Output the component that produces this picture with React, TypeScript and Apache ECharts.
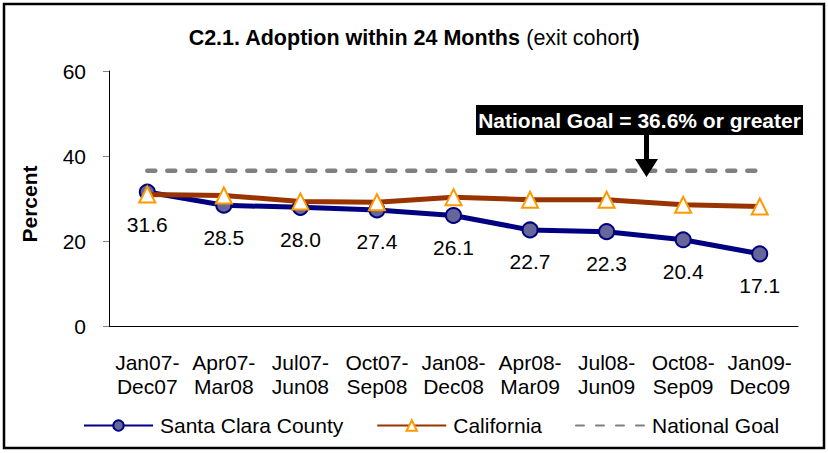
import React, { useEffect, useRef } from "react";
import * as echarts from "echarts";

const categories = [
  "Jan07-\nDec07",
  "Apr07-\nMar08",
  "Jul07-\nJun08",
  "Oct07-\nSep08",
  "Jan08-\nDec08",
  "Apr08-\nMar09",
  "Jul08-\nJun09",
  "Oct08-\nSep09",
  "Jan09-\nDec09",
];
const santaClara = [31.6, 28.5, 28.0, 27.4, 26.1, 22.7, 22.3, 20.4, 17.1];
const california = [31.0, 30.8, 29.4, 29.2, 30.4, 29.8, 29.8, 28.6, 28.2];
const nationalGoal = [36.6, 36.6, 36.6, 36.6, 36.6, 36.6, 36.6, 36.6, 36.6];
const yTicks = { min: 0, max: 60, interval: 20 };
const titleBold = "C2.1. Adoption within 24 Months ";
const titleRegular = "(exit cohort";
const annotationText = "National Goal = 36.6% or greater";

const FONT = "'Liberation Sans', Arial, Helvetica, sans-serif";

export default function App() {
  const ref = useRef<HTMLDivElement>(null);

  useEffect(() => {
    if (!ref.current) return;
    const chart = echarts.init(ref.current, null, { renderer: "svg" });
    chart.setOption({
      animation: false,
      backgroundColor: "#ffffff",
      textStyle: { fontFamily: FONT, color: "#000" },
      title: {
        text: `{b|${titleBold}}{r|${titleRegular}}{b|)}`,
        left: "center",
        top: 22,
        textStyle: {
          rich: {
            b: { fontFamily: FONT, fontSize: 21.5, fontWeight: "bold", color: "#000" },
            r: { fontFamily: FONT, fontSize: 21.5, fontWeight: "normal", color: "#000" },
          },
        },
      },
      grid: { left: 109, right: 30, top: 71, bottom: 126.3, containLabel: false },
      legend: {
        left: 83,
        top: 415,
        padding: 0,
        itemWidth: 69,
        itemHeight: 13,
        itemGap: 33,
        textStyle: { fontFamily: FONT, fontSize: 21, color: "#000", padding: [0, 0, 0, 2] },
        data: [
          { name: "Santa Clara County" },
          { name: "California" },
          { name: "National Goal", itemStyle: { opacity: 0 } },
        ],
      },
      xAxis: {
        type: "category",
        data: categories,
        boundaryGap: true,
        axisLine: { lineStyle: { color: "#000", width: 1 } },
        axisTick: { alignWithLabel: true, inside: true, length: 5, lineStyle: { color: "#808080" } },
        axisLabel: {
          fontFamily: FONT,
          fontSize: 21,
          color: "#000",
          lineHeight: 24,
          margin: 24,
          interval: 0,
        },
        splitLine: { show: false },
      },
      yAxis: {
        type: "value",
        min: yTicks.min,
        max: yTicks.max,
        interval: yTicks.interval,
        axisLine: { show: true, lineStyle: { color: "#000", width: 1 } },
        axisTick: { show: true, length: 6, lineStyle: { color: "#808080" } },
        axisLabel: { fontFamily: FONT, fontSize: 21, color: "#000", margin: 23 },
        splitLine: { show: false },
      },
      series: [
        {
          name: "National Goal",
          type: "line",
          data: nationalGoal,
          symbol: "none",
          lineStyle: { color: "#808080", width: 4.5, type: [8, 12], cap: "round" },
          itemStyle: { color: "#808080" },
          z: 1,
        },
        {
          name: "Santa Clara County",
          type: "line",
          data: santaClara,
          symbol: "circle",
          symbolSize: 15,
          lineStyle: { color: "#000080", width: 5 },
          itemStyle: { color: "#666699", borderColor: "#000080", borderWidth: 2 },
          label: {
            show: true,
            position: "bottom",
            distance: 13,
            fontFamily: FONT,
            fontSize: 21,
            color: "#000",
            formatter: (p: any) => Number(p.value).toFixed(1),
          },
          z: 2,
        },
        {
          name: "California",
          type: "line",
          data: california,
          symbol: "triangle",
          symbolSize: 16,
          lineStyle: { color: "#993300", width: 5 },
          itemStyle: { color: "#ffffff", borderColor: "#FF9900", borderWidth: 2 },
          z: 3,
        },
      ],
      graphic: [
        {
          type: "rect",
          shape: { x: 4, y: 4, width: 820, height: 444 },
          style: { fill: "none", stroke: "#000", lineWidth: 2.5 },
          silent: true,
        },
        {
          type: "text",
          x: 29,
          y: 204,
          rotation: Math.PI / 2,
          style: {
            text: "Percent",
            font: `bold 21px ${FONT}`,
            fill: "#000",
            align: "center",
            verticalAlign: "middle",
          },
        },
        {
          type: "rect",
          shape: { x: 476, y: 105, width: 327, height: 30 },
          style: { fill: "#000" },
          z: 10,
        },
        {
          type: "text",
          x: 639.5,
          y: 120.5,
          style: {
            text: annotationText,
            font: `bold 21px ${FONT}`,
            fill: "#fff",
            align: "center",
            verticalAlign: "middle",
          },
          z: 11,
        },
        {
          type: "polygon",
          shape: {
            points: [
              [644, 135],
              [649, 135],
              [649, 159],
              [658, 159],
              [646.5, 177],
              [635, 159],
              [644, 159],
            ],
          },
          style: { fill: "#000" },
          z: 10,
        },
      ],
    });
    return () => chart.dispose();
  }, []);

  return (
    <div
      ref={ref}
      style={{ position: "fixed", left: 0, top: 0, width: 828, height: 453, background: "#fff" }}
    />
  );
}
